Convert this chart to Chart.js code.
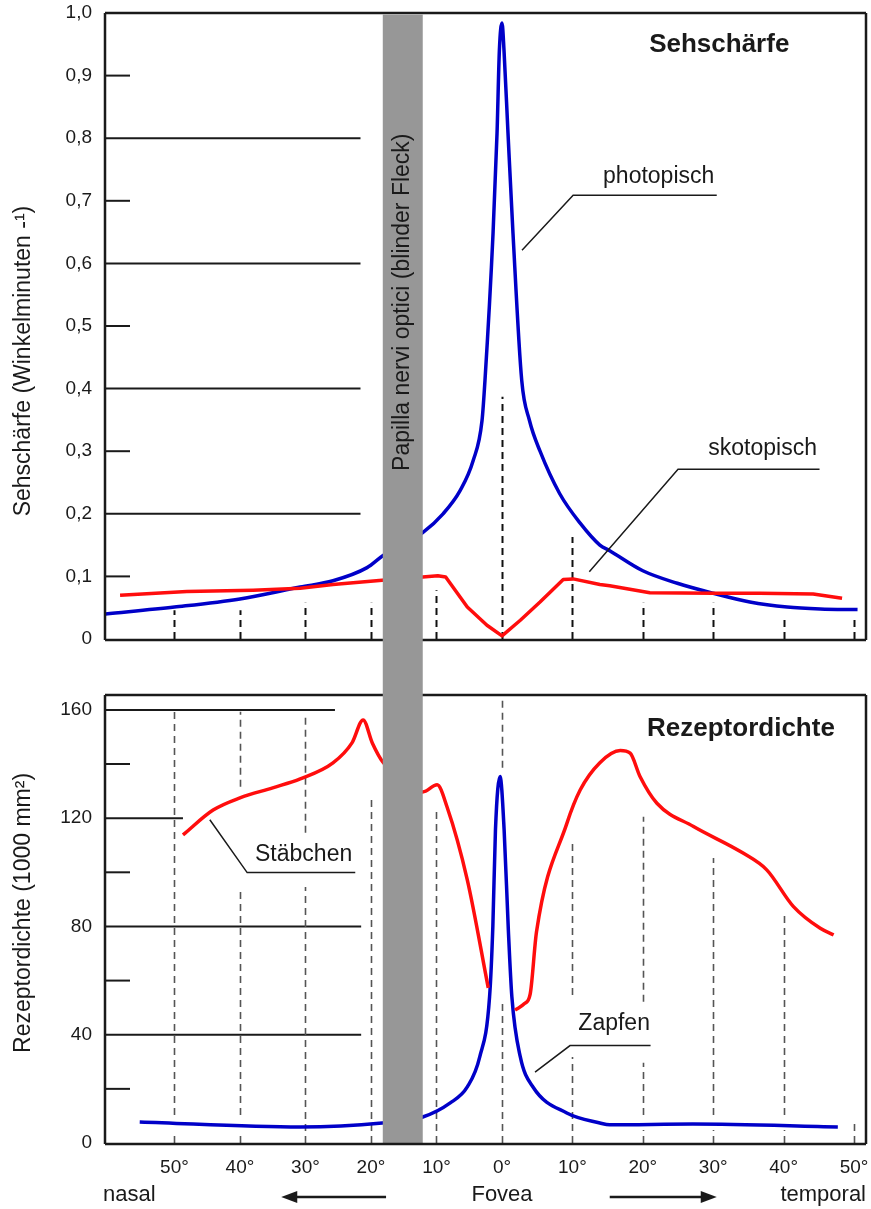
<!DOCTYPE html>
<html>
<head>
<meta charset="utf-8">
<script src="https://cdn.jsdelivr.net/npm/chart.js@4.4.1/dist/chart.umd.min.js"></script>
<style>
  html, body { margin: 0; padding: 0; background: #fff; }
  #wrap { position: relative; width: 871px; height: 1209px; }
  #wrap canvas { position: absolute; left: 0; }
  #acuity { top: 0; }
  #density { top: 667px; }
</style>
</head>
<body>
<div id="wrap">
  <canvas id="acuity" width="871" height="667"></canvas>
  <canvas id="density" width="871" height="542"></canvas>
</div>
<script>
// x positions in degrees: nasal is negative, temporal positive
const degTicks = [-50, -40, -30, -20, -10, 0, 10, 20, 30, 40, 50];
const blindSpot = [-18.2, -12.1];

// Sehschärfe (top)
const acuityTicks = [0, 0.1, 0.2, 0.3, 0.4, 0.5, 0.6, 0.7, 0.8, 0.9, 1.0];
const acuityLong = [0.2, 0.4, 0.6, 0.8];
const acuityShort = [0.1, 0.3, 0.5, 0.7, 0.9];
const photopDeg = [-60.5, -50, -40, -30.8, -25.8, -20.6, -18.2, -12.1, -9.0, -6.4, -4.4, -3.05, -2.6, -1.37, -0.76, -0.4, 0, 0.28, 0.85, 1.56, 2.8, 3.9, 5.4, 8.2, 11.1, 13.9, 15.3, 20, 24.9, 30, 35.2, 40.5, 45.2, 50.5];
const photopVal = [0.040, 0.051, 0.064, 0.083, 0.093, 0.114, 0.133, 0.170, 0.200, 0.237, 0.285, 0.349, 0.413, 0.648, 0.808, 0.941, 0.984, 0.941, 0.808, 0.648, 0.413, 0.349, 0.300, 0.232, 0.185, 0.150, 0.141, 0.109, 0.089, 0.073, 0.059, 0.051, 0.048, 0.047];
const skotopDeg = [-58.3, -48.1, -38, -30.8, -25.8, -18.3, -12.1, -9.8, -8.6, -5.3, -2.3, 0, 2.6, 5.4, 8.7, 10.1, 13.9, 15.3, 21, 30, 36.6, 44.2, 48.3];
const skotopVal = [0.070, 0.076, 0.078, 0.081, 0.087, 0.094, 0.099, 0.101, 0.099, 0.051, 0.022, 0.005, 0.030, 0.059, 0.095, 0.096, 0.087, 0.085, 0.074, 0.073, 0.073, 0.072, 0.065];

// Rezeptordichte (bottom)
const densityTicks = [0, 40, 80, 120, 160];
const densityShort = [20, 60, 100, 140];
const zapfenDeg = [-55.3, -30.8, -18.3, -12.1, -7.9, -5.3, -3.4, -1.9, -1.4, -1.0, -0.3, 0.3, 0.9, 1.4, 2.6, 4.4, 9.2, 13.9, 15.3, 27.1, 47.7];
const zapfenVal = [7.8, 5.9, 7.4, 9.6, 14.8, 20.7, 31.8, 54, 80, 115.7, 135.4, 115.7, 78.7, 54, 31.8, 20.7, 11.1, 7.4, 6.7, 7.0, 5.9];
const stabNasalDeg = [-48.7, -44.1, -40, -35, -30.8, -25.8, -22.9, -21.2, -19.8, -18.2, -12.1, -9.9, -8.4, -5.3, -2.1];
const stabNasalVal = [113.8, 123, 127.5, 131.2, 134.5, 140.4, 147.8, 156.3, 147.8, 140.8, 129.7, 132.3, 124.2, 97.2, 57.3];
const stabTempDeg = [1.85, 3.2, 4.0, 4.9, 9.2, 11.1, 13.9, 16.8, 18.2, 19.6, 22, 27.2, 34.3, 37.6, 41.4, 45.2, 47.1];
const stabTempVal = [49.1, 51.5, 55, 78, 118, 130.4, 140.5, 145, 144, 135.4, 125.5, 116.9, 107, 100.9, 87.3, 79.3, 76.9];

const BLUE = '#0000c8';
const RED = '#ff0d0d';
const INK = '#1a1a1a';
const FONT = '"Liberation Sans", Arial, Helvetica, sans-serif';

Chart.defaults.font.family = FONT;
Chart.defaults.color = INK;

// linear scale with a different degree width on each side of the fovea
class SplitScale extends Chart.LinearScale {
    getPixelForValue(value) {
        if (value === null || isNaN(value)) return NaN;
        const z = this.options.zeroAt;
        const d = value <= 0 ? z * (value - this.min) / -this.min : z + (1 - z) * value / this.max;
        return this.getPixelForDecimal(d);
    }
    getValueForPixel(pixel) {
        const z = this.options.zeroAt;
        const d = this.getDecimalForPixel(pixel);
        return d <= z ? this.min - this.min * d / z : this.max * (d - z) / (1 - z);
    }
}
SplitScale.id = 'split';
SplitScale.defaults = Chart.LinearScale.defaults;
Chart.register(SplitScale);

function pts(xs, ys) {
    return xs.map((x, i) => ({ x: x, y: ys[i] }));
}

function line(data, color, straight) {
    const ds = {
        data: data,
        borderColor: color,
        borderWidth: 3.5,
        pointRadius: 0,
        fill: false,
        borderJoinStyle: 'round',
        cubicInterpolationMode: 'monotone'
    };
    if (straight) {
        ds.cubicInterpolationMode = 'default';
        ds.tension = 0;
    }
    return ds;
}

function xAxis(show) {
    return {
        type: 'split',
        display: show,
        min: -60.6,
        max: 51.7,
        zeroAt: 0.5217,
        bounds: 'data',
        grid: { display: false, drawTicks: false },
        border: { display: false },
        afterBuildTicks: s => { s.ticks = degTicks.map(v => ({ value: v })); },
        afterFit: s => { s.height = show ? 66 : 0; s.paddingLeft = 0; s.paddingRight = 0; },
        ticks: {
            padding: 13,
            autoSkip: false,
            maxRotation: 0,
            color: INK,
            font: { size: 19 },
            callback: v => Math.abs(v) + '°'
        }
    };
}

function yAxis(min, max, ticks, fmt) {
    return {
        min: min,
        max: max,
        bounds: 'data',
        grid: { display: false, drawTicks: false },
        border: { display: false },
        afterBuildTicks: s => { s.ticks = ticks.map(v => ({ value: v })); },
        afterFit: s => { s.width = 105; s.paddingTop = 0; s.paddingBottom = 0; },
        ticks: { padding: 13, autoSkip: false, color: INK, font: { size: 19 }, callback: fmt }
    };
}

// drawing helpers, everything placed through the chart scales
function X(chart, v) { return chart.scales.x.getPixelForValue(v); }
function Y(chart, v) { return chart.scales.y.getPixelForValue(v); }

function refLines(chart, longLines, shortTicks) {
    const ctx = chart.ctx, left = chart.chartArea.left;
    ctx.save();
    ctx.strokeStyle = INK;
    ctx.lineWidth = 2;
    longLines.forEach(([v, toDeg]) => {
        ctx.beginPath();
        ctx.moveTo(left, Y(chart, v));
        ctx.lineTo(X(chart, toDeg), Y(chart, v));
        ctx.stroke();
    });
    shortTicks.forEach(v => {
        ctx.beginPath();
        ctx.moveTo(left, Y(chart, v));
        ctx.lineTo(left + 25, Y(chart, v));
        ctx.stroke();
    });
    ctx.restore();
}

function dashes(chart, list, color, width) {
    const ctx = chart.ctx;
    ctx.save();
    ctx.strokeStyle = color;
    ctx.lineWidth = width;
    ctx.setLineDash([7, 5]);
    list.forEach(([deg, segs]) => {
        const x = Math.round(X(chart, deg)) + 0.5;
        segs.forEach(([lo, hi]) => {
            ctx.beginPath();
            ctx.moveTo(x, Y(chart, lo));
            ctx.lineTo(x, Y(chart, hi));
            ctx.stroke();
        });
    });
    ctx.restore();
}

function band(chart, top, bottom) {
    const ctx = chart.ctx;
    const x0 = X(chart, blindSpot[0]), x1 = X(chart, blindSpot[1]);
    ctx.save();
    ctx.fillStyle = '#979797';
    ctx.fillRect(x0, top, x1 - x0, bottom - top);
    ctx.restore();
}

function frame(chart, sides) {
    const ctx = chart.ctx, a = chart.chartArea;
    ctx.save();
    ctx.strokeStyle = INK;
    ctx.lineWidth = 2.5;
    ctx.beginPath();
    if (sides.indexOf('t') >= 0) { ctx.moveTo(a.left, a.top); ctx.lineTo(a.right, a.top); }
    if (sides.indexOf('r') >= 0) { ctx.moveTo(a.right, a.top); ctx.lineTo(a.right, a.bottom + 1); }
    if (sides.indexOf('b') >= 0) { ctx.moveTo(a.left, a.bottom + 1); ctx.lineTo(a.right, a.bottom + 1); }
    if (sides.indexOf('l') >= 0) { ctx.moveTo(a.left, a.top); ctx.lineTo(a.left, a.bottom + 1); }
    ctx.stroke();
    ctx.restore();
}

function notes(chart, list) {
    const ctx = chart.ctx;
    ctx.save();
    ctx.strokeStyle = INK;
    ctx.lineWidth = 1.5;
    ctx.fillStyle = INK;
    ctx.font = '23px ' + FONT;
    ctx.textAlign = 'left';
    ctx.textBaseline = 'middle';
    list.forEach(n => {
        ctx.beginPath();
        n.path.forEach(([d, v], i) => {
            if (i === 0) ctx.moveTo(X(chart, d), Y(chart, v));
            else ctx.lineTo(X(chart, d), Y(chart, v));
        });
        ctx.stroke();
        ctx.fillText(n.text, X(chart, n.at[0]), Y(chart, n.at[1]));
    });
    ctx.restore();
}

function title(chart, text, at) {
    const ctx = chart.ctx;
    ctx.save();
    ctx.fillStyle = INK;
    ctx.font = 'bold 26px ' + FONT;
    ctx.textAlign = 'left';
    ctx.textBaseline = 'middle';
    ctx.fillText(text, X(chart, at[0]), Y(chart, at[1]));
    ctx.restore();
}

function vText(ctx, text, x, y, size) {
    ctx.save();
    ctx.translate(x, y);
    ctx.rotate(-Math.PI / 2);
    ctx.fillStyle = INK;
    ctx.font = size + 'px ' + FONT;
    ctx.textAlign = 'center';
    ctx.textBaseline = 'middle';
    ctx.fillText(text, 0, 0);
    ctx.restore();
}

function arrow(ctx, x0, x1, y) {
    const dir = x1 > x0 ? 1 : -1;
    ctx.save();
    ctx.strokeStyle = INK;
    ctx.fillStyle = INK;
    ctx.lineWidth = 2.5;
    ctx.beginPath();
    ctx.moveTo(x0, y);
    ctx.lineTo(x1 - dir * 12, y);
    ctx.stroke();
    ctx.beginPath();
    ctx.moveTo(x1, y);
    ctx.lineTo(x1 - dir * 16, y - 6);
    ctx.lineTo(x1 - dir * 16, y + 6);
    ctx.closePath();
    ctx.fill();
    ctx.restore();
}

const acuityDashes = [
    [-50, [[0, 0.046]]], [-40, [[0, 0.046]]], [-30, [[0, 0.058]]], [-20, [[0, 0.058]]],
    [-10, [[0, 0.078]]], [0, [[0, 0.387]]], [10, [[0, 0.163]]], [20, [[0, 0.058]]],
    [30, [[0, 0.058]]], [40, [[0, 0.034]]], [50, [[0, 0.034]]]
];

const densityDashes = [
    [-50, [[0, 2.8], [10.3, 159.3]]],
    [-40, [[0, 2.8], [10.3, 94.6], [131.6, 159.3]]],
    [-30, [[0, 94.6], [114.6, 158.9]]],
    [-20, [[0, 128.6]]],
    [-10, [[0, 123]]],
    [0, [[0, 52.2], [138.6, 164.4]]],
    [10, [[0, 31.8], [54.7, 112]]],
    [20, [[0, 4.8], [10.3, 29.6], [52.2, 120.5]]],
    [30, [[0, 4.8], [10.3, 105.3]]],
    [40, [[0, 4.8], [10.3, 85]]],
    [50, [[0, 7.8]]]
];

const acuityNotes = [
    { text: 'photopisch', at: [14.35, 0.738], path: [[30.5, 0.709], [10.1, 0.709], [2.84, 0.621]] },
    { text: 'skotopisch', at: [29.3, 0.304], path: [[45.1, 0.271], [25.0, 0.271], [12.4, 0.1075]] }
];

const densityNotes = [
    { text: 'Stäbchen', at: [-37.7, 106.4], path: [[-22.4, 99.9], [-38.9, 99.9], [-44.6, 119.4]] },
    { text: 'Zapfen', at: [10.84, 44.0], path: [[21.1, 36.0], [9.66, 36.0], [4.69, 26.2]] }
];

const acuityDecor = {
    id: 'acuityDecor',
    beforeDatasetsDraw(chart) {
        refLines(chart, acuityLong.map(v => [v, -21.6]), acuityShort);
        dashes(chart, acuityDashes, '#111', 2);
    },
    afterDatasetsDraw(chart) {
        const a = chart.chartArea;
        frame(chart, 'trbl');
        band(chart, a.top + 1.5, chart.height);
        const bx = (X(chart, blindSpot[0]) + X(chart, blindSpot[1])) / 2;
        vText(chart.ctx, 'Papilla nervi optici (blinder Fleck)', bx, Y(chart, 0.538), 23);
        notes(chart, acuityNotes);
        title(chart, 'Sehschärfe', [20.9, 0.949]);
        vText(chart.ctx, 'Sehschärfe (Winkelminuten -¹)', 24, Y(chart, 0.444), 23);
    }
};

const densityDecor = {
    id: 'densityDecor',
    beforeDatasetsDraw(chart) {
        refLines(chart, [[160, -25.5], [120, -48.7], [80, -21.5], [40, -21.5]], densityShort);
        dashes(chart, densityDashes, '#555', 1.6);
    },
    afterDatasetsDraw(chart) {
        const a = chart.chartArea;
        frame(chart, 'trl');
        band(chart, 0, a.bottom);
        frame(chart, 'b');
        notes(chart, densityNotes);
        title(chart, 'Rezeptordichte', [20.6, 153]);
        const ctx = chart.ctx;
        vText(ctx, 'Rezeptordichte (1000 mm²)', 24, Y(chart, 85), 23);

        // footer row: nasal <-- Fovea --> temporal
        const fy = a.bottom + 52;
        ctx.save();
        ctx.fillStyle = INK;
        ctx.font = '22px ' + FONT;
        ctx.textBaseline = 'middle';
        ctx.textAlign = 'left';
        ctx.fillText('nasal', a.left - 2, fy);
        ctx.textAlign = 'center';
        ctx.fillText('Fovea', X(chart, 0), fy);
        ctx.textAlign = 'right';
        ctx.fillText('temporal', a.right, fy);
        ctx.restore();
        arrow(ctx, X(chart, -17.7), X(chart, -33.7), fy + 2);
        arrow(ctx, X(chart, 15.3), X(chart, 30.5), fy + 2);
    }
};

const common = {
    responsive: false,
    animation: false,
    events: [],
    plugins: { legend: { display: false }, tooltip: { enabled: false } }
};

new Chart(document.getElementById('acuity'), {
    type: 'line',
    data: {
        datasets: [
            line(pts(skotopDeg, skotopVal), RED, true),
            line(pts(photopDeg, photopVal), BLUE)
        ]
    },
    options: Object.assign({}, common, {
        layout: { padding: { top: 13, right: 5, bottom: 28, left: 0 } },
        scales: {
            x: xAxis(false),
            y: yAxis(0, 1, acuityTicks, v => v === 0 ? '0' : v.toFixed(1).replace('.', ','))
        }
    }),
    plugins: [acuityDecor]
});

new Chart(document.getElementById('density'), {
    type: 'line',
    data: {
        datasets: [
            line(pts(stabNasalDeg, stabNasalVal), RED),
            line(pts(stabTempDeg, stabTempVal), RED),
            line(pts(zapfenDeg, zapfenVal), BLUE)
        ]
    },
    options: Object.assign({}, common, {
        layout: { padding: { top: 28, right: 5, bottom: 0, left: 0 } },
        scales: {
            x: xAxis(true),
            y: yAxis(0, 165.5, densityTicks, v => String(v))
        }
    }),
    plugins: [densityDecor]
});
</script>
</body>
</html>
